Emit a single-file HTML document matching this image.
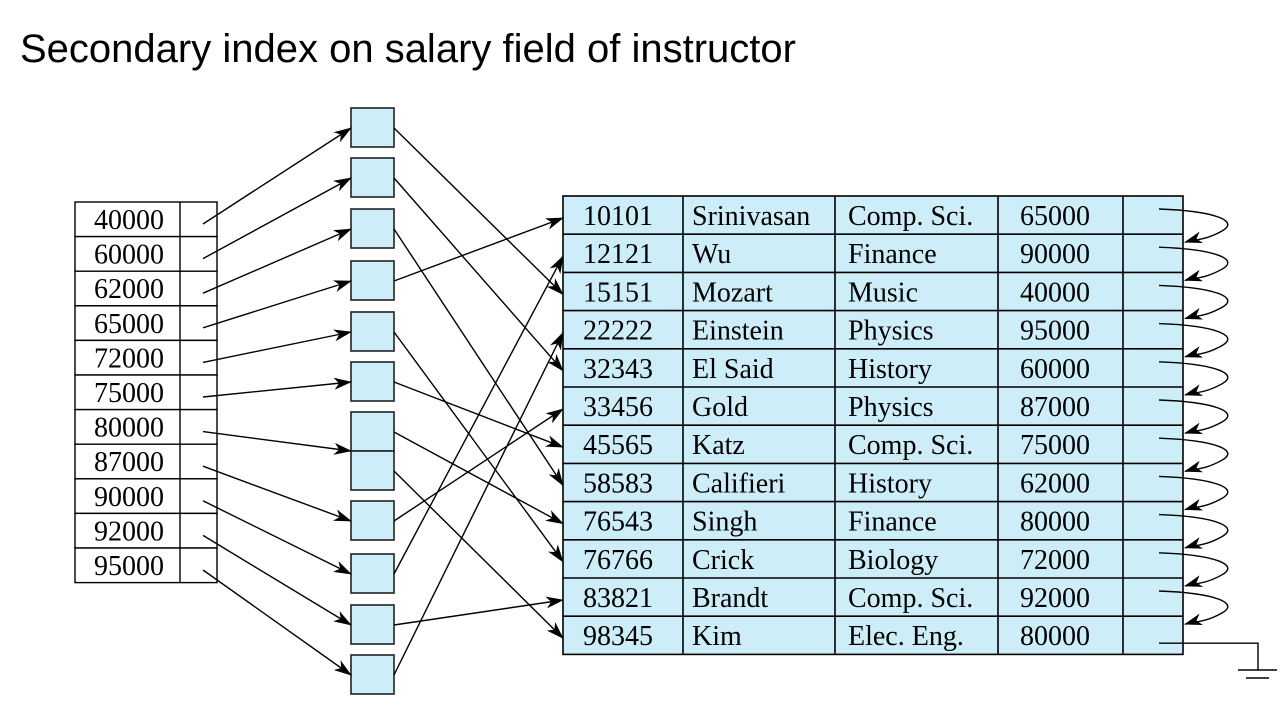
<!DOCTYPE html>
<html><head><meta charset="utf-8"><style>
html,body{margin:0;padding:0;background:#fff;width:1288px;height:709px;overflow:hidden}
svg{display:block}
</style></head><body>
<svg id="fig" width="1288" height="709" viewBox="0 0 1288 709" xmlns="http://www.w3.org/2000/svg">
<defs>
<marker id="ah" markerWidth="18" markerHeight="12" refX="17" refY="6" orient="auto" markerUnits="userSpaceOnUse">
<path d="M0,0 L18,6 L0,12 L5,6 Z" fill="#000"/>
</marker>
</defs>
<text x="20" y="62" font-family="Liberation Sans, sans-serif" font-size="40" fill="#000">Secondary index on salary field of instructor</text>
<g id="g"></g>
</svg>
<script>
// index keys (left table)
const indexKeys = ["40000","60000","62000","65000","72000","75000","80000","87000","90000","92000","95000"];
// instructor records
const recIds = ["10101","12121","15151","22222","32343","33456","45565","58583","76543","76766","83821","98345"];
const recNames = ["Srinivasan","Wu","Mozart","Einstein","El Said","Gold","Katz","Califieri","Singh","Crick","Brandt","Kim"];
const recDepts = ["Comp. Sci.","Finance","Music","Physics","History","Physics","Comp. Sci.","History","Finance","Biology","Comp. Sci.","Elec. Eng."];
const recSalaries = ["65000","90000","40000","95000","60000","87000","75000","62000","80000","72000","92000","80000"];

const NS="http://www.w3.org/2000/svg";
const g=document.getElementById('g');
function mk(tag,attrs,parent){const e=document.createElementNS(NS,tag);for(const k in attrs)e.setAttribute(k,attrs[k]);(parent||g).appendChild(e);return e;}
const serif="Liberation Serif, serif";

// left table
const LX=75,LX2=217,LDIV=180,LTOP=202,LRH=34.6;
for(let i=0;i<indexKeys.length;i++){
  const y=LTOP+i*LRH;
  const r=mk('rect',{x:LX,y:y,width:LX2-LX,height:LRH,fill:'#fff',stroke:'#000','stroke-width':1.4});
  
  
  mk('line',{x1:LDIV,y1:y,x2:LDIV,y2:y+LRH,stroke:'#000','stroke-width':1.4});
  const t=mk('text',{x:94,y:y+27,'font-family':serif,'font-size':28});
  t.textContent=indexKeys[i];
  
  
}

// bucket boxes
const boxTops=[108,158,209,261,312,362,412,451,501,554,605,655];
const BX=351,BW=43,BH=39;
boxTops.forEach((y,i)=>{
  const b=mk('rect',{x:BX,y:y,width:BW,height:BH,fill:'#cdeef8',stroke:'#222','stroke-width':1.6});
  
  
});

// right table
const RX=563,RX2=1183,RTOP=196,RRH=38.2;
const cols=[563,683,835,998,1123,1183];
const nR=recIds.length;
const tb=mk('rect',{x:RX,y:RTOP,width:RX2-RX,height:RRH*nR,fill:'#cdeef8',stroke:'#000','stroke-width':1.6});


for(let i=1;i<nR;i++) mk('line',{x1:RX,y1:RTOP+i*RRH,x2:RX2,y2:RTOP+i*RRH,stroke:'#000','stroke-width':1.6});
for(let c=1;c<cols.length-1;c++) mk('line',{x1:cols[c],y1:RTOP,x2:cols[c],y2:RTOP+RRH*nR,stroke:'#000','stroke-width':1.6});
const colData=[recIds,recNames,recDepts,recSalaries];
const textX=[583,692,848,1020];
for(let i=0;i<nR;i++){
  for(let c=0;c<4;c++){
    const t=mk('text',{x:textX[c],y:RTOP+i*RRH+29,'font-family':serif,'font-size':28});
    t.textContent=colData[c][i];
    
    
  }
}

// arrows left -> buckets
const keyToBox=[0,1,2,3,4,5,6,8,9,10,11];
indexKeys.forEach((k,i)=>{
  const bi=keyToBox[i];
  const ey=(bi===6)?451:boxTops[bi]+20;
  const a=mk('line',{x1:203,y1:LTOP+i*LRH+22,x2:BX,y2:ey,stroke:'#000','stroke-width':1.4,'marker-end':'url(#ah)'});
  
  
});

// bucket -> record pointers: for each box, record row targeted
const boxToRec=[2,4,7,0,9,6,8,11,5,1,10,3];
boxToRec.forEach((r,bi)=>{
  const sy=boxTops[bi]+20;
  const a=mk('line',{x1:394,y1:sy,x2:RX,y2:RTOP+r*RRH+22,stroke:'#000','stroke-width':1.4,'marker-end':'url(#ah)'});
  
  
});

// chain arrows
for(let i=0;i<nR-1;i++){
  const y=RTOP+i*RRH+13;
  const ty=RTOP+(i+1)*RRH+8;
  const p=mk('path',{d:`M1159,${y} C1215,${y+2} 1240,${y+12} 1222,${y+22} S1195,${ty-3} 1185,${ty}`,fill:'none',stroke:'#000','stroke-width':1.4,'marker-end':'url(#ah)'});
  
  
}
// null pointer / ground
const ly=RTOP+(nR-1)*RRH+27;
const gp=mk('path',{d:`M1159,${ly} L1258,${ly} L1258,670`,fill:'none',stroke:'#000','stroke-width':1.4});


mk('line',{x1:1238,y1:670,x2:1277,y2:670,stroke:'#000','stroke-width':1.4});
mk('line',{x1:1246,y1:678,x2:1269,y2:678,stroke:'#000','stroke-width':1.4});
</script>
</body></html>
